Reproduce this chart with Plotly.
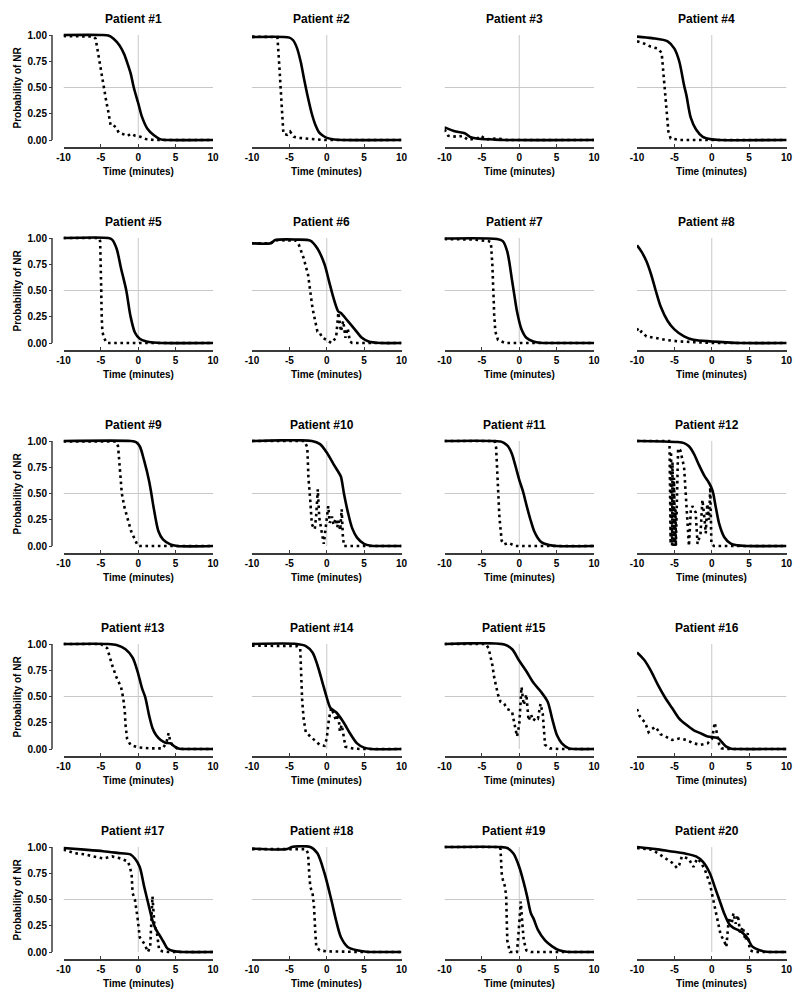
import plotly.graph_objects as go

# ---------------- data (time in minutes, probability of NR) ----------------
x_tick_vals = [-10, -5, 0, 5, 10]
x_tick_text = ["-10", "-5", "0", "5", "10"]
y_tick_vals = [0, 0.25, 0.5, 0.75, 1.0]
y_tick_text = ["0.00", "0.25", "0.50", "0.75", "1.00"]

p1_solid = [(-10, 1.0), (-5, 1.0), (-4, 0.995), (-3.3, 0.965), (-2.5, 0.9), (-1.9, 0.82), (-1.4, 0.72), (-1.0, 0.63), (-0.6, 0.5), (0, 0.35), (0.5, 0.22), (1.2, 0.11), (2.1, 0.045), (3.0, 0.006), (4, 0), (10, 0)]
p1_dot = [(-10, 0.99), (-6.5, 0.99), (-6.0, 0.985), (-5.7, 0.965), (-5.2, 0.74), (-4.84, 0.6), (-4.6, 0.49), (-4.26, 0.36), (-3.95, 0.25), (-3.7, 0.14), (-3.3, 0.14), (-3.0, 0.12), (-2.6, 0.07), (-1.9, 0.05), (-1.4, 0.04), (-1.0, 0.06), (-0.4, 0.04), (0.3, 0.03), (1.0, 0.01), (2.1, 0), (10, 0)]

p2_solid = [(-10, 0.98), (-5, 0.975), (-4.5, 0.95), (-4, 0.88), (-3.5, 0.75), (-3, 0.57), (-2.5, 0.4), (-2, 0.25), (-1.5, 0.14), (-1, 0.07), (-0.5, 0.04), (0, 0.02), (1, 0.005), (2, 0), (10, 0)]
p2_dot = [(-10, 0.985), (-6.7, 0.985), (-6.6, 0.98), (-6.4, 0.77), (-6.2, 0.55), (-6.0, 0.32), (-5.95, 0.2), (-5.8, 0.06), (-5.3, 0.05), (-4.9, 0.08), (-4.4, 0.03), (-3.6, 0.02), (-2.2, 0.01), (-0.4, 0), (10, 0)]

p3_solid = [(-10, 0.12), (-8.5, 0.08), (-7.3, 0.065), (-6.6, 0.03), (-5.7, 0.015), (-3.5, 0.005), (-2, 0), (10, 0)]
p3_dot = [(-10, 0.1), (-9.5, 0.04), (-8.2, 0.03), (-7.6, 0.04), (-6.8, 0.0), (-5.5, 0.02), (-5.1, 0.04), (-4.5, 0.005), (-2.9, 0.015), (-1.6, 0), (10, 0)]

p4_solid = [(-10, 0.985), (-8, 0.97), (-5.9, 0.94), (-5.0, 0.87), (-4.35, 0.75), (-3.7, 0.52), (-3.4, 0.43), (-2.8, 0.21), (-2.1, 0.1), (-1.2, 0.03), (0, 0.006), (1, 0), (10, 0)]
p4_dot = [(-10, 0.94), (-9.1, 0.92), (-8.2, 0.89), (-7.2, 0.87), (-6.7, 0.83), (-6.4, 0.59), (-6.2, 0.43), (-6.0, 0.24), (-5.8, 0.08), (-5.5, 0.015), (-4.3, 0), (10, 0)]

p5_solid = [(-10, 1.0), (-4, 1.0), (-3.5, 0.985), (-2.9, 0.9), (-2.3, 0.71), (-1.6, 0.5), (-1.05, 0.26), (-0.45, 0.1), (0.2, 0.04), (1.1, 0.015), (2.05, 0.005), (3, 0), (10, 0)]
p5_dot = [(-10, 1.0), (-5.3, 1.0), (-5.1, 0.97), (-5.0, 0.75), (-4.95, 0.5), (-4.9, 0.27), (-4.8, 0.11), (-4.6, 0.05), (-4.2, 0), (10, 0)]

p6_solid = [(-10, 0.95), (-7.5, 0.95), (-6.9, 0.98), (-4, 0.985), (-2.2, 0.975), (-1.25, 0.9), (-0.3, 0.75), (0.3, 0.59), (0.9, 0.43), (1.55, 0.3), (1.9, 0.285), (2.8, 0.21), (3.75, 0.13), (4.7, 0.05), (5.6, 0.015), (7.2, 0), (10, 0)]
p6_dot = [(-10, 0.95), (-7.5, 0.95), (-6.9, 0.98), (-4.1, 0.975), (-3.75, 0.94), (-3.1, 0.81), (-2.5, 0.65), (-2.2, 0.5), (-1.9, 0.33), (-1.55, 0.21), (-1.25, 0.11), (-0.95, 0.1), (-0.6, 0.05), (0, 0.03), (0.6, 0), (1.25, 0.05), (1.55, 0.29), (1.9, 0.11), (2.2, 0.21), (2.5, 0.05), (2.8, 0.14), (3.1, 0.015), (3.4, 0), (10, 0)]

p7_solid = [(-10, 0.995), (-3, 0.99), (-2.2, 0.97), (-1.6, 0.87), (-0.95, 0.59), (-0.6, 0.43), (-0.3, 0.3), (0.3, 0.13), (0.95, 0.05), (1.9, 0.015), (2.8, 0.003), (4, 0), (10, 0)]
p7_dot = [(-10, 0.99), (-6, 0.985), (-4.1, 0.97), (-3.8, 0.96), (-3.6, 0.75), (-3.5, 0.5), (-3.35, 0.27), (-3.2, 0.11), (-2.85, 0.03), (-1.9, 0), (10, 0)]

p8_solid = [(-10, 0.93), (-9.4, 0.87), (-8.75, 0.78), (-8.1, 0.65), (-7.5, 0.5), (-6.85, 0.35), (-5.9, 0.21), (-5.0, 0.13), (-3.7, 0.063), (-2.45, 0.03), (0, 0.015), (1.95, 0.006), (3.8, 0), (10, 0)]
p8_dot = [(-10, 0.14), (-9.7, 0.095), (-9.4, 0.11), (-8.75, 0.063), (-7.5, 0.048), (-6.2, 0.03), (-4.35, 0.015), (-2.45, 0.006), (0, 0), (10, 0)]

p9_solid = [(-10, 1.0), (-1, 1.0), (-0.3, 0.99), (0.2, 0.95), (0.8, 0.81), (1.45, 0.62), (1.75, 0.5), (2.05, 0.37), (2.7, 0.14), (3.3, 0.063), (4.3, 0.015), (5.2, 0), (10, 0)]
p9_dot = [(-10, 0.995), (-3, 0.995), (-2.7, 0.95), (-2.5, 0.75), (-2.2, 0.5), (-1.85, 0.37), (-1.7, 0.33), (-1.4, 0.24), (-0.95, 0.14), (-0.45, 0.063), (-0.1, 0.006), (0.2, 0), (10, 0)]

p10_solid = [(-10, 1.0), (-2, 1.0), (-0.9, 0.97), (0, 0.89), (0.9, 0.78), (1.6, 0.7), (1.9, 0.66), (2.3, 0.5), (2.8, 0.33), (3.4, 0.17), (4.05, 0.08), (5, 0.02), (5.9, 0.003), (7, 0), (10, 0)]
p10_dot = [(-10, 1.0), (-3, 1.0), (-2.6, 0.94), (-2.45, 0.65), (-2.2, 0.43), (-2.0, 0.21), (-1.8, 0.18), (-1.6, 0.16), (-1.4, 0.3), (-1.2, 0.54), (-1.0, 0.27), (-0.7, 0.14), (-0.4, 0.02), (-0.2, 0.14), (0, 0.3), (0.2, 0.38), (0.4, 0.22), (0.7, 0.28), (0.9, 0.2), (1.2, 0.26), (1.4, 0.18), (1.6, 0.24), (1.8, 0.15), (2.0, 0.35), (2.15, 0.1), (2.3, 0), (10, 0)]

p11_solid = [(-10, 1.0), (-2.5, 0.995), (-2, 0.98), (-1.5, 0.95), (-1, 0.88), (-0.5, 0.76), (0, 0.63), (0.5, 0.52), (1, 0.38), (1.5, 0.25), (2, 0.14), (2.5, 0.075), (3, 0.035), (4, 0.01), (5, 0), (10, 0)]
p11_dot = [(-10, 1.0), (-3.3, 1.0), (-3.1, 0.94), (-2.85, 0.59), (-2.65, 0.27), (-2.35, 0.05), (-2.05, 0.015), (-1.45, 0.03), (-1.0, 0.015), (-0.5, 0), (10, 0)]

p12_solid = [(-10, 1.0), (-4.6, 0.99), (-3.7, 0.98), (-3.05, 0.95), (-2.4, 0.88), (-1.7, 0.77), (-1.0, 0.67), (-0.36, 0.6), (0.1, 0.53), (0.54, 0.37), (1.0, 0.21), (1.66, 0.086), (2.55, 0.022), (3.45, 0.006), (4.5, 0), (10, 0)]
p12_dot = [(-10, 1.0), (-5.7, 1.0), (-5.65, 0.98), (-5.6, 0.05), (-5.55, 0.95), (-5.5, 0.02), (-5.45, 0.9), (-5.4, 0.08), (-5.35, 0.85), (-5.3, 0.0), (-5.25, 0.8), (-5.2, 0.05), (-5.15, 0.72), (-5.1, 0.0), (-5.05, 0.65), (-5.0, 0.03), (-4.95, 0.5), (-4.9, 0.0), (-4.85, 0.35), (-4.8, 0.0), (-4.5, 0.93), (-4.2, 0.91), (-3.7, 0.75), (-3.4, 0.44), (-3.05, 0.0), (-2.8, 0.34), (-2.6, 0.38), (-2.15, 0.32), (-1.9, 0.02), (-1.5, 0.12), (-1.25, 0.44), (-1.0, 0.28), (-0.8, 0.12), (-0.6, 0.4), (-0.36, 0.25), (-0.2, 0.56), (-0.05, 0.02), (0.3, 0), (10, 0)]

p13_solid = [(-10, 1.0), (-4, 1.0), (-2.9, 0.99), (-1.7, 0.95), (-0.75, 0.87), (-0.1, 0.74), (0.5, 0.58), (0.95, 0.49), (1.45, 0.32), (1.9, 0.2), (2.4, 0.13), (3.0, 0.086), (3.65, 0.06), (4.3, 0.055), (4.9, 0.022), (5.5, 0.003), (6.5, 0), (10, 0)]
p13_dot = [(-10, 1.0), (-5, 1.0), (-4.15, 0.96), (-3.5, 0.8), (-2.9, 0.68), (-2.3, 0.59), (-2.0, 0.48), (-1.8, 0.36), (-1.7, 0.23), (-1.5, 0.1), (-1.05, 0.04), (-0.1, 0.016), (1.45, 0.006), (3.3, 0.006), (3.8, 0.07), (4.05, 0.15), (4.3, 0.07), (4.55, 0.04), (5.2, 0.006), (6, 0), (10, 0)]

p14_solid = [(-10, 1.0), (-4, 1.0), (-2.8, 0.98), (-1.9, 0.92), (-1.25, 0.8), (-0.6, 0.64), (0, 0.49), (0.5, 0.39), (1.25, 0.35), (2.2, 0.26), (3.1, 0.15), (4.05, 0.054), (5.0, 0.013), (5.95, 0), (10, 0)]
p14_dot = [(-10, 0.985), (-4, 0.98), (-3.55, 0.96), (-3.45, 0.74), (-3.3, 0.48), (-3.1, 0.29), (-2.8, 0.16), (-2.2, 0.12), (-1.7, 0.086), (-0.95, 0.04), (-0.3, 0.03), (0, 0.1), (0.3, 0.29), (0.6, 0.39), (0.95, 0.33), (1.25, 0.27), (1.55, 0.33), (1.75, 0.17), (2.0, 0.23), (2.2, 0.14), (2.5, 0.022), (3.45, 0.006), (4.5, 0), (10, 0)]

p15_solid = [(-10, 1.0), (-2, 0.995), (-0.95, 0.95), (0, 0.84), (0.95, 0.74), (1.9, 0.63), (2.85, 0.55), (3.8, 0.45), (4.4, 0.29), (5.05, 0.13), (5.7, 0.054), (6.65, 0.006), (7.5, 0), (10, 0)]
p15_dot = [(-10, 1.0), (-4.5, 1.0), (-4.1, 0.96), (-3.6, 0.8), (-3.35, 0.68), (-3.15, 0.62), (-2.85, 0.52), (-2.5, 0.45), (-2.0, 0.43), (-1.6, 0.38), (-1.25, 0.37), (-0.95, 0.35), (-0.65, 0.24), (-0.3, 0.12), (0, 0.23), (0.3, 0.59), (0.6, 0.42), (0.95, 0.52), (1.25, 0.27), (1.55, 0.33), (1.9, 0.27), (2.2, 0.3), (2.5, 0.29), (2.85, 0.43), (3.15, 0.33), (3.45, 0.04), (4.1, 0.006), (5.3, 0), (10, 0)]

p16_solid = [(-10, 0.92), (-9.05, 0.85), (-8.1, 0.74), (-7.2, 0.61), (-6.25, 0.49), (-5.3, 0.39), (-4.35, 0.29), (-3.4, 0.23), (-2.45, 0.18), (-1.5, 0.15), (-0.55, 0.12), (0.4, 0.11), (0.9, 0.1), (1.3, 0.07), (1.95, 0.022), (2.6, 0.003), (3.5, 0), (10, 0)]
p16_dot = [(-10, 0.38), (-9.7, 0.32), (-9.4, 0.29), (-8.9, 0.25), (-8.45, 0.16), (-8.0, 0.19), (-7.5, 0.21), (-6.85, 0.14), (-6.2, 0.12), (-5.3, 0.086), (-4.35, 0.1), (-3.4, 0.086), (-2.45, 0.054), (-1.5, 0.04), (-0.55, 0.054), (0.05, 0.1), (0.4, 0.25), (0.7, 0.13), (1.0, 0.04), (1.3, 0.006), (2, 0), (10, 0)]

p17_solid = [(-10, 0.99), (-7.2, 0.975), (-4.7, 0.96), (-2.3, 0.94), (-1.05, 0.93), (-0.45, 0.89), (0.2, 0.81), (0.8, 0.62), (1.45, 0.43), (1.9, 0.3), (2.4, 0.21), (2.85, 0.16), (3.35, 0.1), (3.95, 0.03), (4.9, 0.006), (6, 0), (10, 0)]
p17_dot = [(-10, 0.975), (-8.45, 0.94), (-7.2, 0.93), (-6.0, 0.91), (-4.7, 0.89), (-3.5, 0.91), (-2.3, 0.89), (-1.35, 0.86), (-0.9, 0.75), (-0.75, 0.56), (-0.45, 0.5), (-0.1, 0.33), (0.2, 0.14), (0.8, 0.08), (1.3, 0), (1.6, 0.05), (1.9, 0.53), (2.15, 0.27), (2.5, 0.18), (2.8, 0.016), (3.3, 0.006), (4, 0), (10, 0)]

p18_solid = [(-10, 0.985), (-5.3, 0.98), (-4.7, 1.0), (-2.2, 1.0), (-1.25, 0.94), (-0.3, 0.75), (0.6, 0.5), (1.25, 0.3), (1.9, 0.14), (2.8, 0.048), (4.05, 0.016), (5.3, 0.003), (6.5, 0), (10, 0)]
p18_dot = [(-10, 0.98), (-5.9, 0.975), (-4.7, 0.98), (-2.8, 0.98), (-2.5, 0.94), (-2.35, 0.75), (-2.2, 0.62), (-1.9, 0.56), (-1.7, 0.43), (-1.55, 0.21), (-1.4, 0.05), (-0.95, 0.016), (0, 0.006), (2.8, 0.003), (4, 0), (10, 0)]

p19_solid = [(-10, 1.0), (-2.5, 1.0), (-1.6, 0.99), (-0.8, 0.94), (0, 0.81), (0.6, 0.66), (1.05, 0.53), (1.55, 0.37), (1.9, 0.32), (2.5, 0.21), (3.45, 0.11), (4.4, 0.054), (5.35, 0.016), (6.3, 0.003), (7.5, 0), (10, 0)]
p19_dot = [(-10, 1.0), (-2.6, 1.0), (-2.5, 0.975), (-2.35, 0.75), (-2.2, 0.69), (-1.9, 0.62), (-1.75, 0.53), (-1.6, 0.11), (-1.25, 0), (-0.3, 0), (0, 0.27), (0.2, 0.48), (0.45, 0.24), (0.6, 0.11), (0.95, 0.016), (1.55, 0), (10, 0)]

p20_solid = [(-10, 1.0), (-7.5, 0.98), (-5.6, 0.96), (-3.7, 0.94), (-2.1, 0.91), (-1.2, 0.86), (-0.25, 0.75), (0.4, 0.62), (1.0, 0.5), (1.65, 0.37), (2.3, 0.27), (2.9, 0.23), (3.5, 0.21), (4.15, 0.18), (4.8, 0.13), (5.4, 0.054), (6.4, 0.016), (7.3, 0.003), (8.5, 0), (10, 0)]
p20_dot = [(-10, 0.99), (-8.1, 0.975), (-7.2, 0.94), (-6.2, 0.89), (-5.3, 0.85), (-4.65, 0.8), (-4.35, 0.83), (-4.0, 0.91), (-3.1, 0.89), (-2.45, 0.81), (-1.95, 0.89), (-1.5, 0.86), (-0.9, 0.78), (-0.25, 0.65), (0.4, 0.43), (0.7, 0.3), (1.2, 0.16), (1.65, 0.11), (1.95, 0.048), (2.3, 0.33), (2.6, 0.24), (2.9, 0.37), (3.2, 0.27), (3.5, 0.35), (3.8, 0.18), (4.15, 0.24), (4.5, 0.11), (4.8, 0.18), (5.1, 0.016), (5.7, 0), (10, 0)]

patient_labels = [f"Patient #{i}" for i in range(1, 21)]
solid_series = [p1_solid, p2_solid, p3_solid, p4_solid, p5_solid, p6_solid, p7_solid, p8_solid, p9_solid, p10_solid,
                p11_solid, p12_solid, p13_solid, p14_solid, p15_solid, p16_solid, p17_solid, p18_solid, p19_solid, p20_solid]
dot_series = [p1_dot, p2_dot, p3_dot, p4_dot, p5_dot, p6_dot, p7_dot, p8_dot, p9_dot, p10_dot,
              p11_dot, p12_dot, p13_dot, p14_dot, p15_dot, p16_dot, p17_dot, p18_dot, p19_dot, p20_dot]

# ---------------- layout geometry (pixels) ----------------
W, H = 800, 998
FONT = "Liberation Sans, Arial, Helvetica, sans-serif"
COL_LEFT = [63.5, 252.0, 444.5, 637.0]
PLOT_W = 149.5
ROW_ONE = 35.0      # pixel of y = 1.00 in first row
ROW_STEP = 203.0
UNIT = 105.0        # pixels per 1.0 probability
Y_RANGE = [-0.0667, 1.02]
AXIS_COLOR = "#3a3a3a"
GRID_COLOR = "#c8c8c8"

fig = go.Figure()
annotations = []
shapes = []

def px_x(p):
    return p / W

def px_y(p):
    return 1 - p / H

for i in range(20):
    r, c = divmod(i, 4)
    n = i + 1
    xa = "x" if n == 1 else f"x{n}"
    ya = "y" if n == 1 else f"y{n}"
    xkey = "xaxis" if n == 1 else f"xaxis{n}"
    ykey = "yaxis" if n == 1 else f"yaxis{n}"

    zero_px = ROW_ONE + r * ROW_STEP + UNIT
    bottom_px = zero_px - Y_RANGE[0] * UNIT
    top_px = zero_px - Y_RANGE[1] * UNIT
    left_px = COL_LEFT[c]
    right_px = left_px + PLOT_W

    dot = dot_series[i]
    solid = solid_series[i]
    fig.add_trace(go.Scatter(
        x=[p[0] for p in dot], y=[p[1] for p in dot], mode="lines",
        line=dict(color="black", width=2.6, dash="2.6px,3.6px"),
        xaxis=xa, yaxis=ya, hoverinfo="skip"))
    fig.add_trace(go.Scatter(
        x=[p[0] for p in solid], y=[p[1] for p in solid], mode="lines",
        line=dict(color="black", width=2.6, shape="spline", smoothing=0.8),
        xaxis=xa, yaxis=ya, hoverinfo="skip"))

    fig.layout[xkey] = dict(
        domain=[px_x(left_px), px_x(right_px)], anchor=ya, range=[-10, 10],
        tickmode="array", tickvals=x_tick_vals,
        ticktext=[f"<b>{t}</b>" for t in x_tick_text],
        ticks="inside", ticklen=3, tickwidth=1, tickcolor=AXIS_COLOR,
        showline=True, linecolor=AXIS_COLOR, linewidth=1.5,
        showgrid=False, zeroline=False, fixedrange=True, automargin=False,
        tickfont=dict(family=FONT, size=10, color="black"))

    ydict = dict(
        domain=[px_y(bottom_px), px_y(top_px)], range=Y_RANGE,
        showgrid=False, zeroline=False, showline=False, fixedrange=True,
        automargin=False)
    if c == 0:
        ydict.update(
            anchor="free", position=px_x(52),
            tickmode="array", tickvals=y_tick_vals,
            ticktext=[f"<b>{t}</b>" for t in y_tick_text],
            ticks="outside", ticklen=3, tickwidth=1, tickcolor=AXIS_COLOR,
            tickfont=dict(family=FONT, size=10, color="black"))
        shapes.append(dict(type="line", xref="paper", yref=ya,
                           x0=px_x(52), x1=px_x(52), y0=0, y1=1,
                           line=dict(color=AXIS_COLOR, width=1.5)))
        annotations.append(dict(
            text="<b>Probability of NR</b>", xref="paper", yref="paper",
            x=px_x(17), y=px_y(zero_px - UNIT / 2), textangle=-90,
            showarrow=False, xanchor="center", yanchor="middle",
            font=dict(family=FONT, size=10, color="black")))
    else:
        ydict.update(anchor=xa, showticklabels=False, ticks="")
    fig.layout[ykey] = ydict

    # reference lines
    shapes.append(dict(type="line", xref=xa, yref=ya, x0=-10, x1=10, y0=0.5, y1=0.5,
                       line=dict(color=GRID_COLOR, width=1), layer="below"))
    shapes.append(dict(type="line", xref=xa, yref=ya, x0=0, x1=0, y0=0, y1=1,
                       line=dict(color=GRID_COLOR, width=1), layer="below"))

    center_px = (left_px + right_px) / 2
    annotations.append(dict(
        text=f"<b>{patient_labels[i]}</b>", xref="paper", yref="paper",
        x=px_x(center_px - 5), y=px_y(ROW_ONE + r * ROW_STEP - 16),
        showarrow=False, xanchor="center", yanchor="middle",
        font=dict(family=FONT, size=12, color="black")))
    annotations.append(dict(
        text="<b>Time (minutes)</b>", xref="paper", yref="paper",
        x=px_x(center_px), y=px_y(zero_px + 31),
        showarrow=False, xanchor="center", yanchor="middle",
        font=dict(family=FONT, size=10, color="black")))

fig.update_layout(
    width=W, height=H, margin=dict(l=0, r=0, t=0, b=0, pad=0, autoexpand=False),
    paper_bgcolor="white", plot_bgcolor="white", showlegend=False,
    annotations=annotations, shapes=shapes,
    font=dict(family=FONT, color="black"))

fig.write_html("out.html",
               config={"displayModeBar": False, "staticPlot": True},
               post_script="document.body.style.margin='0';document.body.style.padding='0';")
